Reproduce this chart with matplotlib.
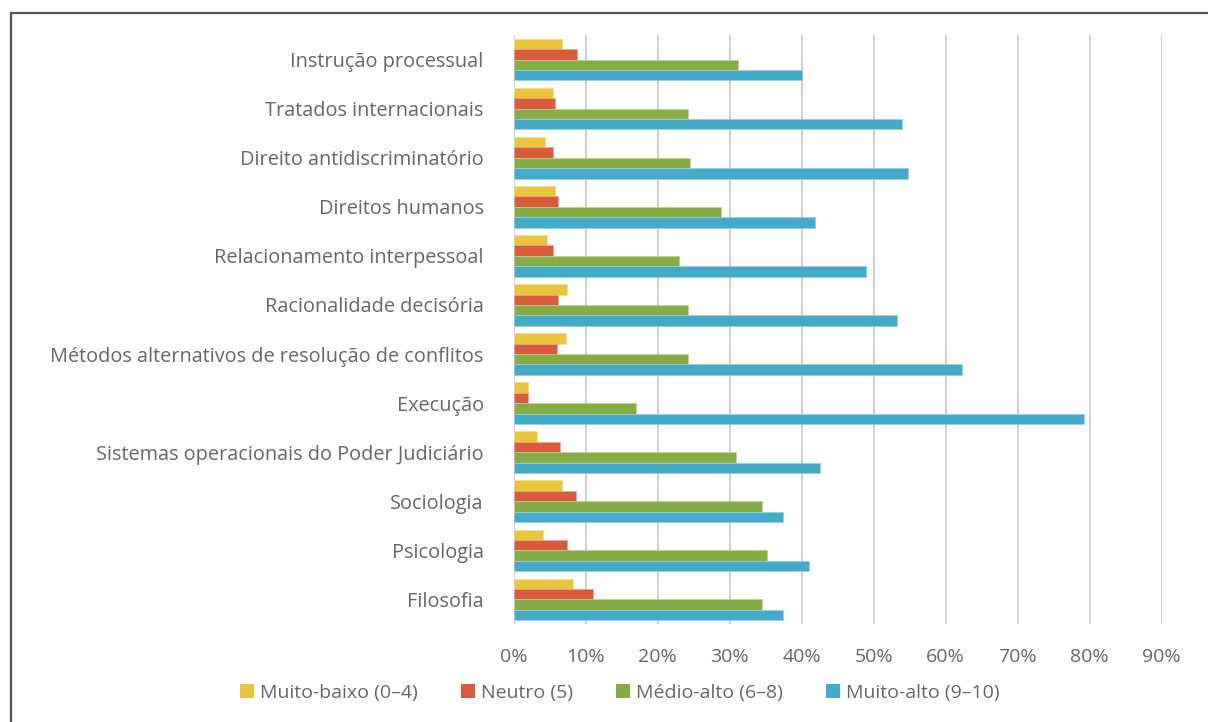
import matplotlib
matplotlib.use("Agg")
import matplotlib.pyplot as plt
from matplotlib.patches import Rectangle, Patch
from matplotlib.colors import to_rgb
import numpy as np

categories = [
    "Instrução processual",
    "Tratados internacionais",
    "Direito antidiscriminatório",
    "Direitos humanos",
    "Relacionamento interpessoal",
    "Racionalidade decisória",
    "Métodos alternativos de resolução de conflitos",
    "Execução",
    "Sistemas operacionais do Poder Judiciário",
    "Sociologia",
    "Psicologia",
    "Filosofia",
]
muito_baixo = [6.7, 5.4, 4.3, 5.7, 4.6, 7.4, 7.2, 2.0, 3.3, 6.7, 4.0, 8.3]
neutro      = [8.8, 5.8, 5.4, 6.1, 5.4, 6.1, 6.0, 2.0, 6.4, 8.6, 7.4, 11.0]
medio_alto  = [31.2, 24.2, 24.5, 28.8, 23.0, 24.2, 24.2, 17.0, 30.9, 34.5, 35.2, 34.5]
muito_alto  = [40.1, 53.9, 54.8, 41.9, 48.9, 53.3, 62.3, 79.2, 42.5, 37.4, 41.0, 37.4]
series_names = ["Muito-baixo (0–4)", "Neutro (5)", "Médio-alto (6–8)", "Muito-alto (9–10)"]
series_colors = ["#E8C53A", "#DA5A3C", "#86AD45", "#44AACA"]
xticks = [0, 10, 20, 30, 40, 50, 60, 70, 80, 90]

plt.rcParams['font.family'] = ['Open Sans', 'DejaVu Sans']
text_color = "#666666"

fig = plt.figure(figsize=(12.08, 7.22), dpi=100)
ax = fig.add_axes([513.7/1208, 1-624/722, (1161.7-513.7)/1208, (624-35)/722])

def tint(c, f=0.45):
    r, g, b = to_rgb(c)
    return (r + (1-r)*f, g + (1-g)*f, b + (1-b)*f)

y = np.arange(len(categories))
h = 0.212
series = [muito_baixo, neutro, medio_alto, muito_alto]
for k, (vals, name, col) in enumerate(zip(series, series_names, series_colors)):
    ax.barh(y + (k - 1.5) * h, vals, height=h, color=col, label=name,
            edgecolor=tint(col), linewidth=0.5, zorder=3)

ax.set_xlim(0, 90)
ax.set_ylim(len(categories) - 0.5, -0.5)
ax.set_xticks(xticks)
ax.set_xticklabels([f"{t}%" for t in xticks])
ax.set_yticks(y)
ax.set_yticklabels(categories)
ax.tick_params(axis='both', length=0, colors=text_color, labelsize=14)
ax.tick_params(axis='y', pad=21.6, labelsize=14.3)
ax.tick_params(axis='x', pad=17)
for t in ax.get_yticklabels():
    t.set_va('center_baseline')
ax.grid(axis='x', color="#D0D0D0", linewidth=1.5, zorder=0)
for s in ax.spines.values():
    s.set_visible(False)

handles = [Patch(facecolor=c, edgecolor='none') for c in series_colors]
leg = fig.legend(handles, series_names, loc='center', bbox_to_anchor=(0.513, 1-693/722),
                 ncol=4, frameon=False, fontsize=14, handlelength=0.75, handleheight=0.75,
                 handletextpad=0.3, columnspacing=2.2)
for t in leg.get_texts():
    t.set_color(text_color)

frame = Rectangle((11/1208, -0.1), 1.2, (1-13/722) + 0.1, transform=fig.transFigure,
                  fill=False, edgecolor="#555555", linewidth=1.6, clip_on=False)
fig.add_artist(frame)

fig.savefig("out.png", dpi=100)
